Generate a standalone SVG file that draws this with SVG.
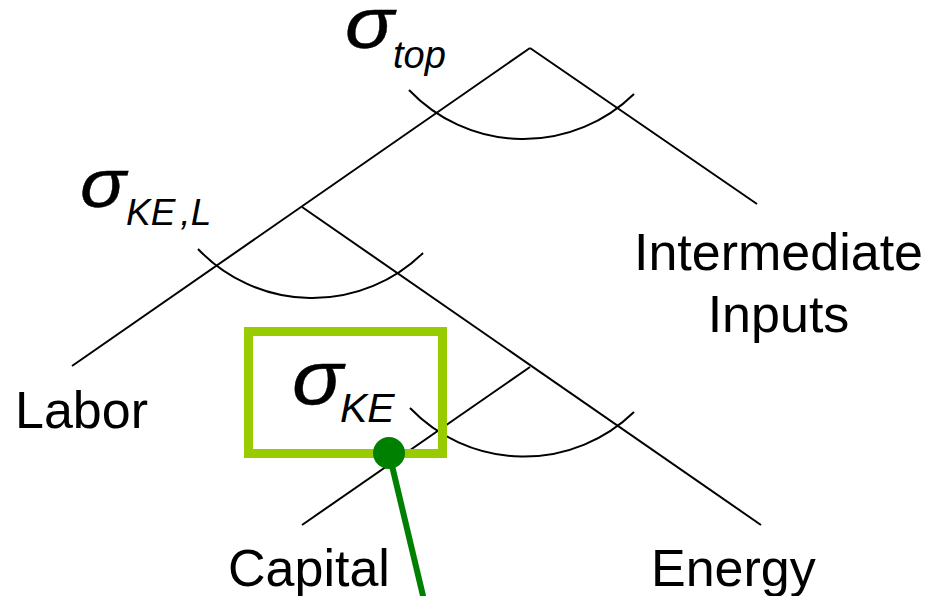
<svg xmlns="http://www.w3.org/2000/svg" width="928" height="596" viewBox="0 0 928 596">
<style>
.ln{stroke:#000;stroke-width:2;fill:none;stroke-linecap:butt}
.lbl{font-family:"Liberation Sans",Arial,sans-serif;font-size:52px;fill:#000}
.sig{font-family:"Liberation Sans",Arial,sans-serif;font-style:italic;fill:#000;stroke:#000;stroke-width:0.4}
.sub{font-family:"Liberation Sans",Arial,sans-serif;font-style:italic;fill:#000}
</style>
<rect width="928" height="596" fill="#fff"/>
<g id="connectors">
<line class="ln" x1="530" y1="48" x2="72" y2="366"/>
<line class="ln" x1="530" y1="48" x2="757" y2="204"/>
<line class="ln" x1="302" y1="207" x2="761" y2="525"/>
<line class="ln" x1="530" y1="367" x2="302" y2="525"/>
<path class="ln" d="M409,90 A158,158 0 0 0 634,94"/>
<path class="ln" d="M198,249 A158,158 0 0 0 423,253"/>
<path class="ln" d="M410,408 A158,158 0 0 0 634,412"/>
</g>
<g id="sigma-top">
<text class="sig" x="345" y="48" font-size="72" textLength="49" lengthAdjust="spacingAndGlyphs">σ</text>
<text class="sub" x="393" y="68" font-size="38">top</text>
</g>
<g id="sigma-kel">
<text class="sig" x="80" y="207" font-size="68" textLength="46" lengthAdjust="spacingAndGlyphs">σ</text>
<text class="sub" x="126" y="225" font-size="37">KE<tspan dx="5">,L</tspan></text>
</g>
<g id="sigma-ke">
<rect x="248.5" y="331.5" width="194" height="122" fill="none" stroke="#99CC00" stroke-width="9"/>
<text class="sig" x="292" y="404" font-size="76" textLength="51" lengthAdjust="spacingAndGlyphs">σ</text>
<text class="sub" x="340" y="422" font-size="41">KE</text>
</g>
<g id="pointer">
<line x1="389" y1="453" x2="424" y2="600" stroke="#008000" stroke-width="6"/>
<circle cx="389" cy="453" r="16" fill="#008000"/>
</g>
<g id="labor"><text class="lbl" x="15" y="428">Labor</text></g>
<g id="intermediate"><text class="lbl" text-anchor="middle"><tspan x="778.5" y="270">Intermediate</tspan><tspan x="778.5" y="332">Inputs</tspan></text></g>
<g id="capital"><text class="lbl" x="228" y="586">Capital</text></g>
<g id="energy"><text class="lbl" x="651" y="586">Energy</text></g>
</svg>
